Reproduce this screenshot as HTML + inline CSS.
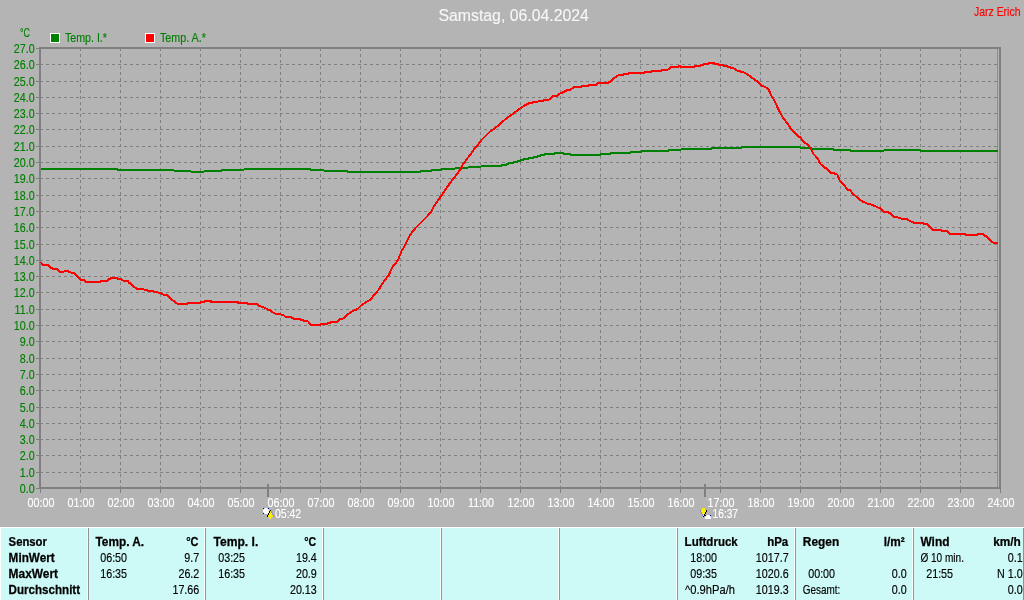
<!DOCTYPE html>
<html lang="de"><head><meta charset="utf-8"><title>Samstag, 06.04.2024</title>
<style>html,body{margin:0;padding:0;background:#b4b4b4;overflow:hidden}svg{display:block;font-family:"Liberation Sans",Arial,sans-serif}</style>
</head><body>
<svg width="1024" height="600" viewBox="0 0 1024 600">
<rect x="0" y="0" width="1024" height="600" fill="#b4b4b4"/>
<g shape-rendering="crispEdges" stroke="#808080" stroke-width="1" stroke-dasharray="3 3" fill="none">
<line x1="40" y1="472.5" x2="999" y2="472.5"/>
<line x1="40" y1="455.5" x2="999" y2="455.5"/>
<line x1="40" y1="439.5" x2="999" y2="439.5"/>
<line x1="40" y1="423.5" x2="999" y2="423.5"/>
<line x1="40" y1="407.5" x2="999" y2="407.5"/>
<line x1="40" y1="390.5" x2="999" y2="390.5"/>
<line x1="40" y1="374.5" x2="999" y2="374.5"/>
<line x1="40" y1="358.5" x2="999" y2="358.5"/>
<line x1="40" y1="341.5" x2="999" y2="341.5"/>
<line x1="40" y1="325.5" x2="999" y2="325.5"/>
<line x1="40" y1="309.5" x2="999" y2="309.5"/>
<line x1="40" y1="292.5" x2="999" y2="292.5"/>
<line x1="40" y1="276.5" x2="999" y2="276.5"/>
<line x1="40" y1="260.5" x2="999" y2="260.5"/>
<line x1="40" y1="244.5" x2="999" y2="244.5"/>
<line x1="40" y1="227.5" x2="999" y2="227.5"/>
<line x1="40" y1="211.5" x2="999" y2="211.5"/>
<line x1="40" y1="195.5" x2="999" y2="195.5"/>
<line x1="40" y1="178.5" x2="999" y2="178.5"/>
<line x1="40" y1="162.5" x2="999" y2="162.5"/>
<line x1="40" y1="146.5" x2="999" y2="146.5"/>
<line x1="40" y1="129.5" x2="999" y2="129.5"/>
<line x1="40" y1="113.5" x2="999" y2="113.5"/>
<line x1="40" y1="97.5" x2="999" y2="97.5"/>
<line x1="40" y1="81.5" x2="999" y2="81.5"/>
<line x1="40" y1="64.5" x2="999" y2="64.5"/>
<line x1="80.5" y1="48" x2="80.5" y2="487"/>
<line x1="120.5" y1="48" x2="120.5" y2="487"/>
<line x1="160.5" y1="48" x2="160.5" y2="487"/>
<line x1="200.5" y1="48" x2="200.5" y2="487"/>
<line x1="240.5" y1="48" x2="240.5" y2="487"/>
<line x1="280.5" y1="48" x2="280.5" y2="487"/>
<line x1="320.5" y1="48" x2="320.5" y2="487"/>
<line x1="360.5" y1="48" x2="360.5" y2="487"/>
<line x1="400.5" y1="48" x2="400.5" y2="487"/>
<line x1="440.5" y1="48" x2="440.5" y2="487"/>
<line x1="480.5" y1="48" x2="480.5" y2="487"/>
<line x1="520.5" y1="48" x2="520.5" y2="487"/>
<line x1="560.5" y1="48" x2="560.5" y2="487"/>
<line x1="600.5" y1="48" x2="600.5" y2="487"/>
<line x1="640.5" y1="48" x2="640.5" y2="487"/>
<line x1="680.5" y1="48" x2="680.5" y2="487"/>
<line x1="720.5" y1="48" x2="720.5" y2="487"/>
<line x1="760.5" y1="48" x2="760.5" y2="487"/>
<line x1="800.5" y1="48" x2="800.5" y2="487"/>
<line x1="840.5" y1="48" x2="840.5" y2="487"/>
<line x1="880.5" y1="48" x2="880.5" y2="487"/>
<line x1="920.5" y1="48" x2="920.5" y2="487"/>
<line x1="960.5" y1="48" x2="960.5" y2="487"/>
</g>
<g shape-rendering="crispEdges" fill="#808080">
<rect x="39" y="47" width="2" height="442" fill="#808080"/>
<rect x="39" y="47" width="962" height="2" fill="#808080"/>
<rect x="39" y="487" width="962" height="2" fill="#808080"/>
<rect x="999" y="47" width="2" height="442" fill="#808080"/>
<rect x="997" y="49" width="1" height="438" fill="#8c8c8c"/>
<rect x="36" y="488" width="3" height="1" fill="#808080"/>
<rect x="36" y="472" width="3" height="1" fill="#808080"/>
<rect x="36" y="455" width="3" height="1" fill="#808080"/>
<rect x="36" y="439" width="3" height="1" fill="#808080"/>
<rect x="36" y="423" width="3" height="1" fill="#808080"/>
<rect x="36" y="407" width="3" height="1" fill="#808080"/>
<rect x="36" y="390" width="3" height="1" fill="#808080"/>
<rect x="36" y="374" width="3" height="1" fill="#808080"/>
<rect x="36" y="358" width="3" height="1" fill="#808080"/>
<rect x="36" y="341" width="3" height="1" fill="#808080"/>
<rect x="36" y="325" width="3" height="1" fill="#808080"/>
<rect x="36" y="309" width="3" height="1" fill="#808080"/>
<rect x="36" y="292" width="3" height="1" fill="#808080"/>
<rect x="36" y="276" width="3" height="1" fill="#808080"/>
<rect x="36" y="260" width="3" height="1" fill="#808080"/>
<rect x="36" y="244" width="3" height="1" fill="#808080"/>
<rect x="36" y="227" width="3" height="1" fill="#808080"/>
<rect x="36" y="211" width="3" height="1" fill="#808080"/>
<rect x="36" y="195" width="3" height="1" fill="#808080"/>
<rect x="36" y="178" width="3" height="1" fill="#808080"/>
<rect x="36" y="162" width="3" height="1" fill="#808080"/>
<rect x="36" y="146" width="3" height="1" fill="#808080"/>
<rect x="36" y="129" width="3" height="1" fill="#808080"/>
<rect x="36" y="113" width="3" height="1" fill="#808080"/>
<rect x="36" y="97" width="3" height="1" fill="#808080"/>
<rect x="36" y="81" width="3" height="1" fill="#808080"/>
<rect x="36" y="64" width="3" height="1" fill="#808080"/>
<rect x="36" y="48" width="3" height="1" fill="#808080"/>
<rect x="40" y="489" width="1" height="4" fill="#808080"/>
<rect x="80" y="489" width="1" height="4" fill="#808080"/>
<rect x="120" y="489" width="1" height="4" fill="#808080"/>
<rect x="160" y="489" width="1" height="4" fill="#808080"/>
<rect x="200" y="489" width="1" height="4" fill="#808080"/>
<rect x="240" y="489" width="1" height="4" fill="#808080"/>
<rect x="280" y="489" width="1" height="4" fill="#808080"/>
<rect x="320" y="489" width="1" height="4" fill="#808080"/>
<rect x="360" y="489" width="1" height="4" fill="#808080"/>
<rect x="400" y="489" width="1" height="4" fill="#808080"/>
<rect x="440" y="489" width="1" height="4" fill="#808080"/>
<rect x="480" y="489" width="1" height="4" fill="#808080"/>
<rect x="520" y="489" width="1" height="4" fill="#808080"/>
<rect x="560" y="489" width="1" height="4" fill="#808080"/>
<rect x="600" y="489" width="1" height="4" fill="#808080"/>
<rect x="640" y="489" width="1" height="4" fill="#808080"/>
<rect x="680" y="489" width="1" height="4" fill="#808080"/>
<rect x="720" y="489" width="1" height="4" fill="#808080"/>
<rect x="760" y="489" width="1" height="4" fill="#808080"/>
<rect x="800" y="489" width="1" height="4" fill="#808080"/>
<rect x="840" y="489" width="1" height="4" fill="#808080"/>
<rect x="880" y="489" width="1" height="4" fill="#808080"/>
<rect x="920" y="489" width="1" height="4" fill="#808080"/>
<rect x="960" y="489" width="1" height="4" fill="#808080"/>
<rect x="1000" y="489" width="1" height="4" fill="#808080"/>
<rect x="267" y="484" width="2" height="13" fill="#808080"/>
<rect x="704" y="484" width="2" height="13" fill="#808080"/>
</g>
<polyline shape-rendering="crispEdges" fill="none" stroke="#008000" stroke-width="2" stroke-linejoin="round" points="40.5,169 117.4,169 118.4,170 173.5,170 174.5,171 190.5,171 191.5,172 203.5,172 204.5,171 221,171 222,170 243.5,170 244.5,169 310,169 311,170 323.5,170 324.5,171 347,171 348,172 420,172 421,171 431,171 432,170 441,170 442,169 454.5,169 455.5,168 467.5,168 468.5,167 480.5,167 481.5,166 500.7,166 501.6,165 505.8,165 506.4,164 508.1,164 508.7,163 513.6,163 514.2,162 517.5,162 518.1,161 520.2,161 520.8,160 523.3,160 523.9,159 528,159 528.6,158 533.5,158 534.1,157 537.4,157 538,156 540.5,156 541.1,155 544,155 544.6,154 554.2,154 554.8,153 563.6,153 564.2,154 570.2,154 570.8,155 600.3,155 601.3,154 610.3,154 611.3,153 630.3,153 631.3,152 640.6,152 641.6,151 667.7,151 668.7,150 680.5,150 681.5,149 710.6,149 711.6,148 740.8,148 741.8,147 799.8,147 800.6,148 811.2,148 812,149 833,149 833.8,150 850,150 850.8,151 883.5,151 884.5,150 920.2,150 921.2,151 998,151"/>
<polyline shape-rendering="crispEdges" fill="none" stroke="#ff0000" stroke-width="2" stroke-linejoin="round" points="41,262 42.6,265 47.7,265 49.7,267 51.6,268 53.6,269 57.1,269 59.8,272 63.3,272 64.9,271 67.6,271 68.8,272 70.4,272 71.5,273 73.5,273 75.5,274.5 77,275.7 80.5,280 83.7,280 85.6,282 100.5,282 101.2,281 107.1,281 108.7,279 111,278.4 112.2,278 117.1,278 118.3,279 120.6,279 121.8,280 123.8,281 127.7,281 129.2,283 130.8,283.7 133.5,286.8 135.5,287.6 137.4,289 143.3,289 144.5,290 147.2,290 148.4,291 153.5,291 154.2,292 157.4,292 158.5,293 160.9,293 162,294 163.6,295 167.1,295 171.8,299.7 174.5,301.6 177.7,304 187.4,304 188.2,303 200.2,303 201,302 203.7,302 204.5,301 210.75,301 211.1,302 237.7,302 238.1,303 247.5,303 247.9,304 257.2,304 259.2,306 263.1,307 265.4,308 267,309 268.5,310 270.3,310 271.9,312 274.2,313 275.8,314 280.1,314 281.7,315 283.6,315.2 285.6,317 290.7,317 291.4,318 293.4,318 294.2,319 300.4,319 301.2,320 303.2,320 303.9,321 307.5,321 309.4,323 311.4,325 320.3,325 321.1,324 327,324 327.8,323 330.5,323 331.3,322 337.1,322 338.7,320 340.7,319 342.5,319 346,316 349.5,313 353,311 357.5,309 361.5,305 365.5,302.5 370.5,299.5 374,295 378.5,290 382.5,283.5 386,278.5 389,275 390.5,271 392.5,267 398,260 401.7,250.8 403,249 406,243 409,237 412.5,231.5 416,227.5 428,215.5 431.5,211 433.5,207 440,197.5 445.5,189.5 451.5,181 456,175.5 461,168.5 462.5,165 468,157.5 472,152.5 473,150.5 478.5,144 481.5,140 484,137.5 489.5,132 495,128 499,125 504.5,120 509,116.5 514,113 518.5,109.5 524,106 527.5,103.7 531,103 534,102 538,101.5 539.5,101 543,101 544,100 548,99.8 550,99 552,97 553.5,96 557,96 559,94 561,93 563.9,92 566.8,90.3 569.7,90 572.6,88 574.1,87 581,87 581.9,86 587.8,86 588.8,85 595.6,85 598,83 607.8,83 608.8,82 610.7,81.7 614.2,78 617.6,75.6 620.5,75 623.4,74.6 624.4,74 627.8,74 628.8,73 643.9,73 644.9,72 650.8,72 651.8,71 661,71 662,70 667.5,70 671.2,67 677.9,67 678.5,66 680,66 680.6,67 694.3,67 695,66 700.5,66 701.2,65 703.3,65 704,64 708,64 708.7,63 713.8,63 714.5,64 717.7,64 718.4,65 723.6,65 724.3,66 727.5,66 728.2,67 730.2,67 731,68 733,68 735.5,69.5 738,71 743,72 747,74 751,77 755,79.8 757,81 761.5,85.7 764.5,86.8 767.5,88 769,90.5 771.5,96 774,100 776,104 779,110.5 781.5,115 783,118 788,124 790.5,128.5 798.5,136.5 801,137.5 802,140 805,143 807.5,144 810,148 812,150.5 813,153.5 815.5,156 818.5,160 820,163.5 825,168 826.5,168.5 831,173 833.5,173 835,174 837.5,174.7 839,179 840.5,181.5 844.5,185.5 847.5,189.8 850.5,190 852.5,193.5 856.5,196.8 861.5,201 867,203.5 872.5,205 878,207.5 880.5,208 883.5,211.5 887,212 890,213 893.5,216.5 897,217 900.5,218.5 907,219 909.5,221 912,221.7 914,223 923.3,223 924.2,224 927.2,224 932.3,229.6 933.2,230 941.3,230 942.2,231 946.9,231 949.9,234 965.4,234 966.3,235 977.4,235 978.3,234 983,234 984.7,235.6 986.9,236.9 992,242 993.7,243 997.6,243"/>
<text transform="translate(438.50,20.50) scale(0.959,1)" font-size="16.5" fill="#f6f6f6" stroke="#f6f6f6" stroke-width="0.15">Samstag, 06.04.2024</text>
<text transform="translate(974.00,16.00) scale(0.837,1)" font-size="12.5" fill="#ff0000" stroke="#ff0000" stroke-width="0.15">Jarz Erich</text>
<text transform="translate(20.00,37.00) scale(0.713,1)" font-size="12.5" fill="#008000" stroke="#008000" stroke-width="0.15">°C</text>
<text transform="translate(34.60,492.80) scale(0.860,1)" font-size="12.5" fill="#008000" stroke="#008000" stroke-width="0.15" text-anchor="end">0.0</text>
<text transform="translate(34.60,476.80) scale(0.860,1)" font-size="12.5" fill="#008000" stroke="#008000" stroke-width="0.15" text-anchor="end">1.0</text>
<text transform="translate(34.60,459.80) scale(0.860,1)" font-size="12.5" fill="#008000" stroke="#008000" stroke-width="0.15" text-anchor="end">2.0</text>
<text transform="translate(34.60,443.80) scale(0.860,1)" font-size="12.5" fill="#008000" stroke="#008000" stroke-width="0.15" text-anchor="end">3.0</text>
<text transform="translate(34.60,427.80) scale(0.860,1)" font-size="12.5" fill="#008000" stroke="#008000" stroke-width="0.15" text-anchor="end">4.0</text>
<text transform="translate(34.60,411.80) scale(0.860,1)" font-size="12.5" fill="#008000" stroke="#008000" stroke-width="0.15" text-anchor="end">5.0</text>
<text transform="translate(34.60,394.80) scale(0.860,1)" font-size="12.5" fill="#008000" stroke="#008000" stroke-width="0.15" text-anchor="end">6.0</text>
<text transform="translate(34.60,378.80) scale(0.860,1)" font-size="12.5" fill="#008000" stroke="#008000" stroke-width="0.15" text-anchor="end">7.0</text>
<text transform="translate(34.60,362.80) scale(0.860,1)" font-size="12.5" fill="#008000" stroke="#008000" stroke-width="0.15" text-anchor="end">8.0</text>
<text transform="translate(34.60,345.80) scale(0.860,1)" font-size="12.5" fill="#008000" stroke="#008000" stroke-width="0.15" text-anchor="end">9.0</text>
<text transform="translate(34.60,329.80) scale(0.860,1)" font-size="12.5" fill="#008000" stroke="#008000" stroke-width="0.15" text-anchor="end">10.0</text>
<text transform="translate(34.60,313.80) scale(0.860,1)" font-size="12.5" fill="#008000" stroke="#008000" stroke-width="0.15" text-anchor="end">11.0</text>
<text transform="translate(34.60,296.80) scale(0.860,1)" font-size="12.5" fill="#008000" stroke="#008000" stroke-width="0.15" text-anchor="end">12.0</text>
<text transform="translate(34.60,280.80) scale(0.860,1)" font-size="12.5" fill="#008000" stroke="#008000" stroke-width="0.15" text-anchor="end">13.0</text>
<text transform="translate(34.60,264.80) scale(0.860,1)" font-size="12.5" fill="#008000" stroke="#008000" stroke-width="0.15" text-anchor="end">14.0</text>
<text transform="translate(34.60,248.80) scale(0.860,1)" font-size="12.5" fill="#008000" stroke="#008000" stroke-width="0.15" text-anchor="end">15.0</text>
<text transform="translate(34.60,231.80) scale(0.860,1)" font-size="12.5" fill="#008000" stroke="#008000" stroke-width="0.15" text-anchor="end">16.0</text>
<text transform="translate(34.60,215.80) scale(0.860,1)" font-size="12.5" fill="#008000" stroke="#008000" stroke-width="0.15" text-anchor="end">17.0</text>
<text transform="translate(34.60,199.80) scale(0.860,1)" font-size="12.5" fill="#008000" stroke="#008000" stroke-width="0.15" text-anchor="end">18.0</text>
<text transform="translate(34.60,182.80) scale(0.860,1)" font-size="12.5" fill="#008000" stroke="#008000" stroke-width="0.15" text-anchor="end">19.0</text>
<text transform="translate(34.60,166.80) scale(0.860,1)" font-size="12.5" fill="#008000" stroke="#008000" stroke-width="0.15" text-anchor="end">20.0</text>
<text transform="translate(34.60,150.80) scale(0.860,1)" font-size="12.5" fill="#008000" stroke="#008000" stroke-width="0.15" text-anchor="end">21.0</text>
<text transform="translate(34.60,133.80) scale(0.860,1)" font-size="12.5" fill="#008000" stroke="#008000" stroke-width="0.15" text-anchor="end">22.0</text>
<text transform="translate(34.60,117.80) scale(0.860,1)" font-size="12.5" fill="#008000" stroke="#008000" stroke-width="0.15" text-anchor="end">23.0</text>
<text transform="translate(34.60,101.80) scale(0.860,1)" font-size="12.5" fill="#008000" stroke="#008000" stroke-width="0.15" text-anchor="end">24.0</text>
<text transform="translate(34.60,85.80) scale(0.860,1)" font-size="12.5" fill="#008000" stroke="#008000" stroke-width="0.15" text-anchor="end">25.0</text>
<text transform="translate(34.60,68.80) scale(0.860,1)" font-size="12.5" fill="#008000" stroke="#008000" stroke-width="0.15" text-anchor="end">26.0</text>
<text transform="translate(34.60,52.80) scale(0.860,1)" font-size="12.5" fill="#008000" stroke="#008000" stroke-width="0.15" text-anchor="end">27.0</text>
<text transform="translate(41.00,507.00) scale(0.860,1)" font-size="12.5" fill="#ffffff" stroke="#ffffff" stroke-width="0.15" text-anchor="middle">00:00</text>
<text transform="translate(81.00,507.00) scale(0.860,1)" font-size="12.5" fill="#ffffff" stroke="#ffffff" stroke-width="0.15" text-anchor="middle">01:00</text>
<text transform="translate(121.00,507.00) scale(0.860,1)" font-size="12.5" fill="#ffffff" stroke="#ffffff" stroke-width="0.15" text-anchor="middle">02:00</text>
<text transform="translate(161.00,507.00) scale(0.860,1)" font-size="12.5" fill="#ffffff" stroke="#ffffff" stroke-width="0.15" text-anchor="middle">03:00</text>
<text transform="translate(201.00,507.00) scale(0.860,1)" font-size="12.5" fill="#ffffff" stroke="#ffffff" stroke-width="0.15" text-anchor="middle">04:00</text>
<text transform="translate(241.00,507.00) scale(0.860,1)" font-size="12.5" fill="#ffffff" stroke="#ffffff" stroke-width="0.15" text-anchor="middle">05:00</text>
<text transform="translate(281.00,507.00) scale(0.860,1)" font-size="12.5" fill="#ffffff" stroke="#ffffff" stroke-width="0.15" text-anchor="middle">06:00</text>
<text transform="translate(321.00,507.00) scale(0.860,1)" font-size="12.5" fill="#ffffff" stroke="#ffffff" stroke-width="0.15" text-anchor="middle">07:00</text>
<text transform="translate(361.00,507.00) scale(0.860,1)" font-size="12.5" fill="#ffffff" stroke="#ffffff" stroke-width="0.15" text-anchor="middle">08:00</text>
<text transform="translate(401.00,507.00) scale(0.860,1)" font-size="12.5" fill="#ffffff" stroke="#ffffff" stroke-width="0.15" text-anchor="middle">09:00</text>
<text transform="translate(441.00,507.00) scale(0.860,1)" font-size="12.5" fill="#ffffff" stroke="#ffffff" stroke-width="0.15" text-anchor="middle">10:00</text>
<text transform="translate(481.00,507.00) scale(0.860,1)" font-size="12.5" fill="#ffffff" stroke="#ffffff" stroke-width="0.15" text-anchor="middle">11:00</text>
<text transform="translate(521.00,507.00) scale(0.860,1)" font-size="12.5" fill="#ffffff" stroke="#ffffff" stroke-width="0.15" text-anchor="middle">12:00</text>
<text transform="translate(561.00,507.00) scale(0.860,1)" font-size="12.5" fill="#ffffff" stroke="#ffffff" stroke-width="0.15" text-anchor="middle">13:00</text>
<text transform="translate(601.00,507.00) scale(0.860,1)" font-size="12.5" fill="#ffffff" stroke="#ffffff" stroke-width="0.15" text-anchor="middle">14:00</text>
<text transform="translate(641.00,507.00) scale(0.860,1)" font-size="12.5" fill="#ffffff" stroke="#ffffff" stroke-width="0.15" text-anchor="middle">15:00</text>
<text transform="translate(681.00,507.00) scale(0.860,1)" font-size="12.5" fill="#ffffff" stroke="#ffffff" stroke-width="0.15" text-anchor="middle">16:00</text>
<text transform="translate(721.00,507.00) scale(0.860,1)" font-size="12.5" fill="#ffffff" stroke="#ffffff" stroke-width="0.15" text-anchor="middle">17:00</text>
<text transform="translate(761.00,507.00) scale(0.860,1)" font-size="12.5" fill="#ffffff" stroke="#ffffff" stroke-width="0.15" text-anchor="middle">18:00</text>
<text transform="translate(801.00,507.00) scale(0.860,1)" font-size="12.5" fill="#ffffff" stroke="#ffffff" stroke-width="0.15" text-anchor="middle">19:00</text>
<text transform="translate(841.00,507.00) scale(0.860,1)" font-size="12.5" fill="#ffffff" stroke="#ffffff" stroke-width="0.15" text-anchor="middle">20:00</text>
<text transform="translate(881.00,507.00) scale(0.860,1)" font-size="12.5" fill="#ffffff" stroke="#ffffff" stroke-width="0.15" text-anchor="middle">21:00</text>
<text transform="translate(921.00,507.00) scale(0.860,1)" font-size="12.5" fill="#ffffff" stroke="#ffffff" stroke-width="0.15" text-anchor="middle">22:00</text>
<text transform="translate(961.00,507.00) scale(0.860,1)" font-size="12.5" fill="#ffffff" stroke="#ffffff" stroke-width="0.15" text-anchor="middle">23:00</text>
<text transform="translate(1001.00,507.00) scale(0.860,1)" font-size="12.5" fill="#ffffff" stroke="#ffffff" stroke-width="0.15" text-anchor="middle">24:00</text>
<g shape-rendering="crispEdges">
<rect x="50" y="33" width="10" height="10" fill="#fff"/>
<rect x="51" y="34" width="8" height="8" fill="#008000"/>
<rect x="145" y="33" width="10" height="10" fill="#fff"/>
<rect x="146" y="34" width="8" height="8" fill="#ff0000"/>
</g>
<text transform="translate(65.00,42.00) scale(0.851,1)" font-size="12.5" fill="#008000" stroke="#008000" stroke-width="0.15">Temp. I.*</text>
<text transform="translate(160.00,42.00) scale(0.860,1)" font-size="12.5" fill="#008000" stroke="#008000" stroke-width="0.15">Temp. A.*</text>
<text transform="translate(275.00,518.30) scale(0.838,1)" font-size="12.5" fill="#ffffff" stroke="#ffffff" stroke-width="0.15">05:42</text>
<text transform="translate(712.60,518.30) scale(0.812,1)" font-size="12.5" fill="#ffffff" stroke="#ffffff" stroke-width="0.15">16:37</text>
<g shape-rendering="crispEdges">
<rect x="263" y="508" width="6" height="6" fill="#fff"/>
<rect x="263" y="508" width="1" height="1" fill="#000090"/>
<rect x="268" y="508" width="1" height="1" fill="#000090"/>
<rect x="263" y="513" width="1" height="1" fill="#000090"/>
<rect x="264" y="508" width="1" height="1" fill="#d8d8f4"/>
<rect x="263" y="509" width="1" height="1" fill="#d8d8f4"/>
<rect x="267" y="508" width="1" height="1" fill="#d8d8f4"/>
<rect x="268" y="509" width="1" height="1" fill="#d8d8f4"/>
<rect x="263" y="512" width="1" height="1" fill="#d8d8f4"/>
<rect x="264" y="513" width="1" height="1" fill="#d8d8f4"/>
<rect x="270" y="510" width="1" height="1" fill="#000"/>
<rect x="269" y="511" width="1" height="2" fill="#000"/>
<rect x="270" y="511" width="1" height="2" fill="#ffee00"/>
<rect x="271" y="511" width="1" height="2" fill="#8a8ad8"/>
<rect x="268" y="513" width="1" height="2" fill="#000"/>
<rect x="269" y="513" width="3" height="2" fill="#ffee00"/>
<rect x="272" y="513" width="1" height="2" fill="#8a8ad8"/>
<rect x="267" y="515" width="1" height="2" fill="#000"/>
<rect x="268" y="515" width="5" height="2" fill="#ffee00"/>
<rect x="273" y="515" width="1" height="2" fill="#8a8ad8"/>
<rect x="269" y="517" width="2" height="2" fill="#ffee00"/>
<rect x="271" y="517" width="1" height="2" fill="#d6d05a"/>
<rect x="705" y="515" width="6" height="4" fill="#fff"/>
<rect x="705" y="515" width="1" height="1" fill="#000090"/>
<rect x="710" y="515" width="1" height="1" fill="#000090"/>
<rect x="706" y="515" width="1" height="1" fill="#d8d8f4"/>
<rect x="705" y="516" width="1" height="1" fill="#d8d8f4"/>
<rect x="709" y="515" width="1" height="1" fill="#d8d8f4"/>
<rect x="710" y="516" width="1" height="1" fill="#d8d8f4"/>
<rect x="702" y="508" width="3" height="2" fill="#ffee00"/>
<rect x="700" y="510" width="1" height="2" fill="#8a8ad8"/>
<rect x="701" y="510" width="5" height="2" fill="#ffee00"/>
<rect x="706" y="510" width="1" height="2" fill="#000"/>
<rect x="701" y="512" width="1" height="2" fill="#8a8ad8"/>
<rect x="702" y="512" width="3" height="2" fill="#ffee00"/>
<rect x="705" y="512" width="1" height="2" fill="#000"/>
<rect x="702" y="514" width="1" height="2" fill="#8a8ad8"/>
<rect x="703" y="514" width="1" height="2" fill="#ffee00"/>
<rect x="704" y="514" width="1" height="2" fill="#000"/>
<rect x="703" y="516" width="1" height="1" fill="#000"/>
</g>
<g shape-rendering="crispEdges">
<rect x="0" y="527" width="1024" height="73" fill="#cdf9f6"/>
<rect x="0" y="527" width="1024" height="1" fill="#fff"/>
<rect x="0" y="527" width="1" height="73" fill="#fff"/>
<rect x="1023" y="528" width="1" height="72" fill="#909090"/>
<rect x="87" y="528" width="1" height="72" fill="#fff"/>
<rect x="88" y="528" width="1" height="72" fill="#949494"/>
<rect x="204" y="528" width="1" height="72" fill="#fff"/>
<rect x="205" y="528" width="1" height="72" fill="#949494"/>
<rect x="322" y="528" width="1" height="72" fill="#fff"/>
<rect x="323" y="528" width="1" height="72" fill="#949494"/>
<rect x="440" y="528" width="1" height="72" fill="#fff"/>
<rect x="441" y="528" width="1" height="72" fill="#949494"/>
<rect x="558" y="528" width="1" height="72" fill="#fff"/>
<rect x="559" y="528" width="1" height="72" fill="#949494"/>
<rect x="676" y="528" width="1" height="72" fill="#fff"/>
<rect x="677" y="528" width="1" height="72" fill="#949494"/>
<rect x="794" y="528" width="1" height="72" fill="#fff"/>
<rect x="795" y="528" width="1" height="72" fill="#949494"/>
<rect x="912" y="528" width="1" height="72" fill="#fff"/>
<rect x="913" y="528" width="1" height="72" fill="#949494"/>
</g>
<text transform="translate(8.60,545.70) scale(0.906,1)" font-size="12.5" fill="#000" stroke="#000" stroke-width="0.25" font-weight="bold">Sensor</text>
<text transform="translate(8.60,561.70) scale(0.941,1)" font-size="12.5" fill="#000" stroke="#000" stroke-width="0.25" font-weight="bold">MinWert</text>
<text transform="translate(8.60,577.70) scale(0.954,1)" font-size="12.5" fill="#000" stroke="#000" stroke-width="0.25" font-weight="bold">MaxWert</text>
<text transform="translate(8.60,593.70) scale(0.928,1)" font-size="12.5" fill="#000" stroke="#000" stroke-width="0.25" font-weight="bold">Durchschnitt</text>
<text transform="translate(95.50,545.70) scale(0.948,1)" font-size="12.5" fill="#000" stroke="#000" stroke-width="0.25" font-weight="bold">Temp. A.</text>
<text transform="translate(186.20,545.70) scale(0.877,1)" font-size="12.5" fill="#000" stroke="#000" stroke-width="0.25" font-weight="bold">°C</text>
<text transform="translate(100.20,561.70) scale(0.860,1)" font-size="12.5" fill="#000" stroke="#000" stroke-width="0.15">06:50</text>
<text transform="translate(199.30,561.70) scale(0.860,1)" font-size="12.5" fill="#000" stroke="#000" stroke-width="0.15" text-anchor="end">9.7</text>
<text transform="translate(100.20,577.70) scale(0.860,1)" font-size="12.5" fill="#000" stroke="#000" stroke-width="0.15">16:35</text>
<text transform="translate(199.30,577.70) scale(0.860,1)" font-size="12.5" fill="#000" stroke="#000" stroke-width="0.15" text-anchor="end">26.2</text>
<text transform="translate(199.30,593.70) scale(0.860,1)" font-size="12.5" fill="#000" stroke="#000" stroke-width="0.15" text-anchor="end">17.66</text>
<text transform="translate(213.50,545.70) scale(0.968,1)" font-size="12.5" fill="#000" stroke="#000" stroke-width="0.25" font-weight="bold">Temp. I.</text>
<text transform="translate(304.20,545.70) scale(0.848,1)" font-size="12.5" fill="#000" stroke="#000" stroke-width="0.25" font-weight="bold">°C</text>
<text transform="translate(218.20,561.70) scale(0.860,1)" font-size="12.5" fill="#000" stroke="#000" stroke-width="0.15">03:25</text>
<text transform="translate(316.80,561.70) scale(0.860,1)" font-size="12.5" fill="#000" stroke="#000" stroke-width="0.15" text-anchor="end">19.4</text>
<text transform="translate(218.20,577.70) scale(0.860,1)" font-size="12.5" fill="#000" stroke="#000" stroke-width="0.15">16:35</text>
<text transform="translate(316.80,577.70) scale(0.860,1)" font-size="12.5" fill="#000" stroke="#000" stroke-width="0.15" text-anchor="end">20.9</text>
<text transform="translate(316.80,593.70) scale(0.860,1)" font-size="12.5" fill="#000" stroke="#000" stroke-width="0.15" text-anchor="end">20.13</text>
<text transform="translate(684.60,545.70) scale(0.923,1)" font-size="12.5" fill="#000" stroke="#000" stroke-width="0.25" font-weight="bold">Luftdruck</text>
<text transform="translate(767.20,545.70) scale(0.917,1)" font-size="12.5" fill="#000" stroke="#000" stroke-width="0.25" font-weight="bold">hPa</text>
<text transform="translate(690.20,561.70) scale(0.860,1)" font-size="12.5" fill="#000" stroke="#000" stroke-width="0.15">18:00</text>
<text transform="translate(788.60,561.70) scale(0.860,1)" font-size="12.5" fill="#000" stroke="#000" stroke-width="0.15" text-anchor="end">1017.7</text>
<text transform="translate(690.20,577.70) scale(0.860,1)" font-size="12.5" fill="#000" stroke="#000" stroke-width="0.15">09:35</text>
<text transform="translate(788.60,577.70) scale(0.860,1)" font-size="12.5" fill="#000" stroke="#000" stroke-width="0.15" text-anchor="end">1020.6</text>
<text transform="translate(685.00,593.70) scale(0.896,1)" font-size="12.5" fill="#000" stroke="#000" stroke-width="0.15">^0.9hPa/h</text>
<text transform="translate(788.60,593.70) scale(0.860,1)" font-size="12.5" fill="#000" stroke="#000" stroke-width="0.15" text-anchor="end">1019.3</text>
<text transform="translate(802.80,545.70) scale(0.953,1)" font-size="12.5" fill="#000" stroke="#000" stroke-width="0.25" font-weight="bold">Regen</text>
<text transform="translate(883.80,545.70) scale(0.945,1)" font-size="12.5" fill="#000" stroke="#000" stroke-width="0.25" font-weight="bold">l/m²</text>
<text transform="translate(808.20,577.70) scale(0.860,1)" font-size="12.5" fill="#000" stroke="#000" stroke-width="0.15">00:00</text>
<text transform="translate(906.70,577.70) scale(0.860,1)" font-size="12.5" fill="#000" stroke="#000" stroke-width="0.15" text-anchor="end">0.0</text>
<text transform="translate(802.80,593.70) scale(0.796,1)" font-size="12.5" fill="#000" stroke="#000" stroke-width="0.15">Gesamt:</text>
<text transform="translate(906.70,593.70) scale(0.860,1)" font-size="12.5" fill="#000" stroke="#000" stroke-width="0.15" text-anchor="end">0.0</text>
<text transform="translate(920.40,545.70) scale(0.956,1)" font-size="12.5" fill="#000" stroke="#000" stroke-width="0.25" font-weight="bold">Wind</text>
<text transform="translate(993.20,545.70) scale(0.949,1)" font-size="12.5" fill="#000" stroke="#000" stroke-width="0.25" font-weight="bold">km/h</text>
<text transform="translate(920.40,561.70) scale(0.805,1)" font-size="12.5" fill="#000" stroke="#000" stroke-width="0.15">Ø 10 min.</text>
<text transform="translate(1022.70,561.70) scale(0.860,1)" font-size="12.5" fill="#000" stroke="#000" stroke-width="0.15" text-anchor="end">0.1</text>
<text transform="translate(926.20,577.70) scale(0.860,1)" font-size="12.5" fill="#000" stroke="#000" stroke-width="0.15">21:55</text>
<text transform="translate(1022.70,577.70) scale(0.860,1)" font-size="12.5" fill="#000" stroke="#000" stroke-width="0.15" text-anchor="end">N 1.0</text>
<text transform="translate(1022.70,593.70) scale(0.860,1)" font-size="12.5" fill="#000" stroke="#000" stroke-width="0.15" text-anchor="end">0.0</text>
</svg>
</body></html>
